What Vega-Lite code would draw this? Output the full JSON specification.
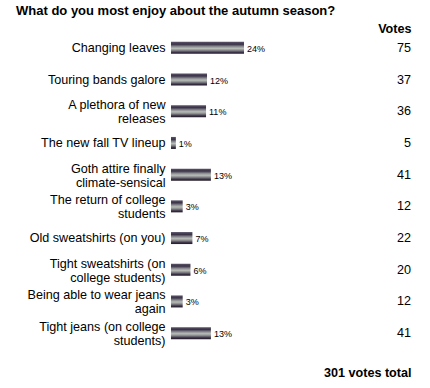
{
  "$schema": "https://vega.github.io/schema/vega-lite/v6.json",
  "width": 240,
  "height": 317,
  "autosize": {"type": "none"},
  "padding": {"left": 171, "top": 32, "right": 19, "bottom": 39},
  "background": "white",
  "config": {"view": {"stroke": null}, "font": "Liberation Sans"},
  "title": {
    "text": "What do you most enjoy about the autumn season?",
    "anchor": "start",
    "frame": "group",
    "dx": -155,
    "fontSize": 13,
    "fontWeight": "bold",
    "font": "Liberation Sans",
    "color": "black",
    "offset": 4
  },
  "data": {
    "values": [
      {"option": "Changing leaves", "votes": 75, "pct": "24%"},
      {"option": "Touring bands galore", "votes": 37, "pct": "12%"},
      {"option": "A plethora of new\nreleases", "votes": 36, "pct": "11%"},
      {"option": "The new fall TV lineup", "votes": 5, "pct": "1%"},
      {"option": "Goth attire finally\nclimate-sensical", "votes": 41, "pct": "13%"},
      {"option": "The return of college\nstudents", "votes": 12, "pct": "3%"},
      {"option": "Old sweatshirts (on you)", "votes": 22, "pct": "7%"},
      {"option": "Tight sweatshirts (on\ncollege students)", "votes": 20, "pct": "6%"},
      {"option": "Being able to wear jeans\nagain", "votes": 12, "pct": "3%"},
      {"option": "Tight jeans (on college\nstudents)", "votes": 41, "pct": "13%"}
    ]
  },
  "resolve": {"axis": {"x": "independent"}},
  "encoding": {
    "y": {
      "field": "option",
      "type": "nominal",
      "sort": null,
      "scale": {"paddingInner": 0, "paddingOuter": 0},
      "axis": {
        "title": null,
        "ticks": false,
        "domain": false,
        "labelPadding": 6,
        "labelFontSize": 12.6,
        "labelFont": "Liberation Sans",
        "labelColor": "black",
        "labelLimit": 300,
        "labelLineHeight": 14,
        "labelOffset": {"condition": {"test": "indexof(datum.value, '\\n') >= 0", "value": -6}, "value": 0},
        "labelExpr": "split(datum.label, '\\n')"
      }
    }
  },
  "layer": [
    {
      "mark": {
        "type": "bar",
        "height": 12,
        "color": {
          "gradient": "linear",
          "x1": 0, "y1": 0, "x2": 0, "y2": 1,
          "stops": [
            {"offset": 0, "color": "#5c546a"},
            {"offset": 0.2, "color": "#3a3246"},
            {"offset": 0.4, "color": "#8e8e94"},
            {"offset": 0.55, "color": "#b8beb6"},
            {"offset": 0.7, "color": "#8a8a8e"},
            {"offset": 0.88, "color": "#3a3246"},
            {"offset": 1, "color": "#221a28"}
          ]
        }
      },
      "encoding": {
        "x": {
          "field": "votes",
          "type": "quantitative",
          "scale": {"domain": [0, 246.6], "nice": false, "zero": true},
          "axis": {
            "orient": "bottom",
            "title": "301 votes total",
            "titleAnchor": "end",
            "titleFontSize": 12.6,
            "titleFontWeight": "bold",
            "titleFont": "Liberation Sans",
            "titleColor": "black",
            "titlePadding": 17,
            "labels": false,
            "ticks": false,
            "domain": false,
            "grid": false
          }
        }
      }
    },
    {
      "mark": {"type": "text", "align": "left", "baseline": "middle", "dx": 3, "dy": 1, "fontSize": 9, "font": "Liberation Sans", "color": "black"},
      "encoding": {
        "x": {"field": "votes", "type": "quantitative", "axis": null},
        "text": {"field": "pct"}
      }
    },
    {
      "mark": {"type": "text", "align": "right", "baseline": "middle", "fontSize": 12.6, "font": "Liberation Sans", "color": "black"},
      "encoding": {
        "x": {
          "value": "width"
        },
        "text": {"field": "votes", "type": "quantitative"}
      }
    },
    {
      "mark": {"type": "text", "opacity": 0},
      "encoding": {
        "x": {
          "field": "votes",
          "type": "quantitative",
          "axis": {
            "orient": "top",
            "title": "Votes",
            "titleAnchor": "end",
            "titleFontSize": 12.6,
            "titleFontWeight": "bold",
            "titleFont": "Liberation Sans",
            "titleColor": "black",
            "titlePadding": -3,
            "labels": false,
            "ticks": false,
            "domain": false,
            "grid": false
          }
        },
        "text": {"value": ""}
      }
    }
  ]
}
